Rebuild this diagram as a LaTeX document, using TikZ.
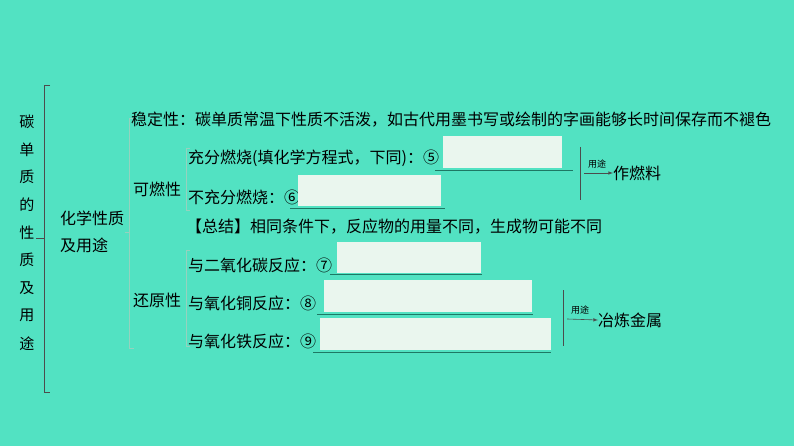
\documentclass[tikz,border=0pt]{standalone}
\usepackage{fontspec}
\newfontfamily\cjk{Noto Sans CJK SC}
\definecolor{bg}{RGB}{82,226,194}
\definecolor{bx}{RGB}{234,246,238}
\definecolor{ul}{RGB}{30,120,100}
\definecolor{lb}{RGB}{150,210,190}
\tikzset{t/.style={inner sep=0pt,anchor=west,font=\cjk\fontsize{16}{18}\selectfont},
 ts/.style={inner sep=0pt,font=\cjk\fontsize{9}{10}\selectfont},
 blank/.style={fill=bx,draw=none},
 uline/.style={draw=ul,line width=0.8pt},
 br/.style={draw=black!70,line width=0.6pt},
 lbr/.style={draw=lb,line width=0.7pt}}
\begin{document}
\begin{tikzpicture}[x=1pt,y=-1pt]
\fill[bg] (0,0) rectangle (794,446);
\useasboundingbox (0,0) rectangle (794,446);
% outer bracket
\draw[br] (50,85) -- (44,85) -- (44,392) -- (50,392);
\draw[br] (44,238) -- (36,238);
\foreach \c [count=\i] in {碳,单,质,的,性,质,及,用,途}
  \node[ts,font=\cjk\fontsize{15}{16}\selectfont] (v\i) at (27,94+27.7*\i) {\c};
\node[t] (hx) at (60,218) {化学性质};
\node[t] (hy) at (60,245) {及用途};
% second bracket
\draw[lbr] (134,118) -- (129,118) -- (129,348) -- (134,348);
\draw[lbr] (129,232) -- (125,232);
\node[t] (wd) at (131,120) {稳定性：碳单质常温下性质不活泼，如古代用墨书写或绘制的字画能够长时间保存而不褪色};
\node[t] (kr) at (133,189) {可燃性};
\node[t] (hy2) at (133,300) {还原性};
\draw[lbr] (190,148) -- (186,148) -- (186,210) -- (190,210);
\draw[lbr] (190,250) -- (186,250) -- (186,346) -- (190,346);
\node[t] (a1) at (188,158) {充分燃烧(填化学方程式，下同)：⑤};
\node[blank,minimum width=119,minimum height=32,anchor=north west] (b1) at (443,136) {};
\draw[uline] (435,170) -- (573,170);
\node[t] (a2) at (188,197) {不充分燃烧：⑥};
\node[blank,minimum width=143,minimum height=31,anchor=north west] (b2) at (298,175) {};
\draw[uline] (290,208) -- (445,208);
\node[t] (zj) at (186,227) {【总结】相同条件下，反应物的用量不同，生成物可能不同};
\node[t] (a3) at (188,265) {与二氧化碳反应：⑦};
\node[blank,minimum width=144,minimum height=31,anchor=north west] (b3) at (337,242) {};
\draw[uline] (330,274) -- (482,274);
\node[t] (a4) at (188,303) {与氧化铜反应：⑧};
\node[blank,minimum width=208,minimum height=32,anchor=north west] (b4) at (324,280) {};
\draw[uline] (317,314) -- (533,314);
\node[t] (a5) at (188,341) {与氧化铁反应：⑨};
\node[blank,minimum width=231,minimum height=32,anchor=north west] (b5) at (320,318) {};
\draw[uline] (313,352) -- (551,352);
% uses
\draw[br] (580,147) -- (580,200);
\coordinate (s1) at (584,173);
\node[t] (u1) at (613,173) {作燃料};
\draw[br,-latex] (s1) -- (u1.west);
\node[ts] at (597,164) {用途};
\draw[br] (563,290) -- (563,346);
\coordinate (s2) at (567,319);
\node[t] (u2) at (598,320) {冶炼金属};
\draw[br,-latex] (s2) -- (u2.west);
\node[ts] at (580,310) {用途};
\end{tikzpicture}
\end{document}
